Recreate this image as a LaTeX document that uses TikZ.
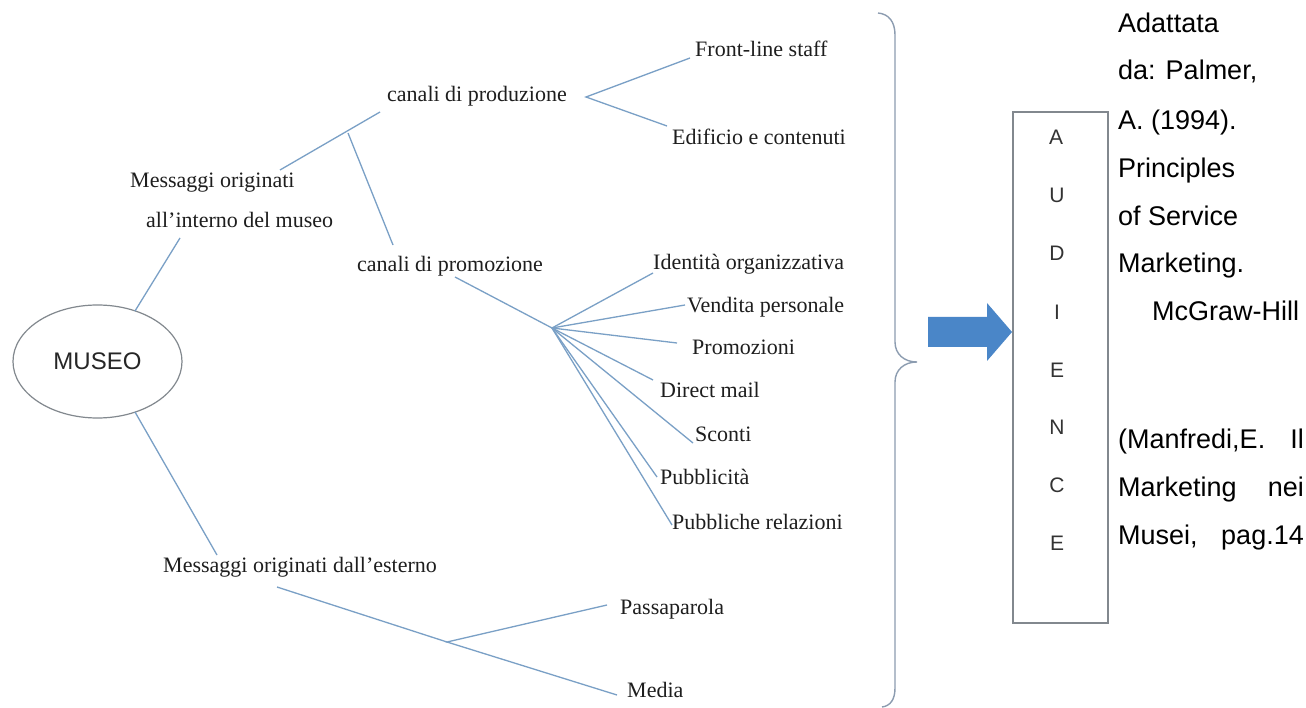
\documentclass[tikz,border=0pt]{standalone}
\usepackage{fontspec}
\setmainfont{Liberation Serif}
\newfontfamily\arialf{Liberation Sans}
\usetikzlibrary{shapes.geometric}
\definecolor{linkblue}{RGB}{122,160,198}
\definecolor{bracegray}{RGB}{140,156,176}
\definecolor{boxgray}{RGB}{130,136,142}
\definecolor{arrowblue}{RGB}{74,134,200}
\definecolor{txt}{RGB}{30,30,30}
\begin{document}
\begin{tikzpicture}[x=1pt,y=-1pt,
  lab/.style={anchor=mid west,inner sep=0pt,yshift=-2pt,font=\fontsize{22}{24}\selectfont,text=txt},
  conn/.style={draw=linkblue,line width=1.3pt},
  reftxt/.style={inner sep=0pt,yshift=-3pt,font=\arialf\fontsize{27}{30}\selectfont,text=black},
  letter/.style={inner sep=0pt,font=\arialf\fontsize{21}{24}\selectfont,text=black!80}]
\useasboundingbox (0,0) rectangle (1306,708);
\fill[white] (0,0) rectangle (1306,708);

% central node
\node[ellipse,draw=boxgray,line width=1.2pt,minimum width=169pt,minimum height=113pt,inner sep=0pt,
  font=\arialf\fontsize{24}{26}\selectfont,text=black!85] (museo) at (97.5,361.5) {MUSEO};

% labels
\node[lab] (mo1) at (130,183) {Messaggi originati};
\node[lab] (mo2) at (146,223) {all’interno del museo};
\node[lab] (cprod) at (387,97) {canali di produzione};
\node[lab] (cprom) at (357,267) {canali di promozione};
\node[lab] (fls) at (695,52) {Front-line staff};
\node[lab] (edi) at (672,140) {Edificio e contenuti};
\node[lab] (ido) at (653,265) {Identità organizzativa};
\node[lab] (vp) at (687,308) {Vendita personale};
\node[lab] (pro) at (692,350) {Promozioni};
\node[lab] (dm) at (660,393) {Direct mail};
\node[lab] (sco) at (695,437) {Sconti};
\node[lab] (pub) at (660,480) {Pubblicità};
\node[lab] (pr) at (672,525) {Pubbliche relazioni};
\node[lab] (me) at (163,568) {Messaggi originati dall’esterno};
\node[lab] (pas) at (620,610) {Passaparola};
\node[lab] (med) at (627,693) {Media};

% connector end points
\coordinate (museoT) at (135,311);
\coordinate (museoB) at (135,412);
\coordinate (mo2a) at (180,238);
\coordinate (mo1a) at (280,170);
\coordinate (cproda) at (380,112);
\coordinate (jA) at (348,133);
\coordinate (cproma) at (393,245);
\coordinate (jP) at (586,97);
\coordinate (flsa) at (690,58);
\coordinate (edia) at (667,126);
\coordinate (cpromb) at (455,277);
\coordinate (jH) at (552,328);
\coordinate (idoa) at (653,273);
\coordinate (vpa) at (685,305);
\coordinate (proa) at (677,343);
\coordinate (dma) at (653,380);
\coordinate (scoa) at (693,443);
\coordinate (puba) at (657,477);
\coordinate (pra) at (672,525);
\coordinate (mea) at (217,555);
\coordinate (meb) at (277,587);
\coordinate (jE) at (447,642);
\coordinate (pasa) at (607,605);
\coordinate (meda) at (617,695);

% connectors
\draw[conn] (museoT) -- (mo2a);
\draw[conn] (mo1a) -- (cproda);
\draw[conn] (jA) -- (cproma);
\draw[conn] (flsa) -- (jP) -- (edia);
\draw[conn] (cpromb) -- (jH);
\foreach \e in {idoa,vpa,proa,dma,scoa,puba,pra}
  \draw[conn] (jH) -- (\e);
\draw[conn] (museoB) -- (mea);
\draw[conn] (meb) -- (jE);
\draw[conn] (pasa) -- (jE) -- (meda);

% brace
\draw[draw=bracegray,line width=1.4pt]
  (878,13) .. controls (889,14) and (895,22) .. (895,35)
  -- (895,342) .. controls (895,354) and (904,362) .. (917,362)
  .. controls (904,362) and (895,370) .. (895,382)
  -- (895,688) .. controls (895,700) and (890,706) .. (882,707);

% arrow
\fill[arrowblue] (928,317) -- (987,317) -- (987,303) -- (1012,332) -- (987,361) -- (987,347) -- (928,347) -- cycle;

% audience box
\node[draw=boxgray,line width=1.3pt,minimum width=95pt,minimum height=511pt,inner sep=0pt] (aud) at (1060.5,367.5) {};
\node[letter] (l1) at (1056,137) {A};
\node[letter] (l2) at (1057,195) {U};
\node[letter] (l3) at (1057,253) {D};
\node[letter] (l4) at (1057,312) {I};
\node[letter] (l5) at (1057,370) {E};
\node[letter] (l6) at (1057,427) {N};
\node[letter] (l7) at (1057,485) {C};
\node[letter] (l8) at (1057,543) {E};

% reference text
\node[reftxt,anchor=mid west] (r1) at (1118,27) {Adattata};
\node[reftxt,anchor=mid west] (r2) at (1118,74) {da: Palmer,};
\node[reftxt,anchor=mid west] (r3) at (1118,124) {A. (1994).};
\node[reftxt,anchor=mid west] (r4) at (1118,172) {Principles};
\node[reftxt,anchor=mid west] (r5) at (1118,220) {of Service};
\node[reftxt,anchor=mid west] (r6) at (1118,267) {Marketing.};
\node[reftxt,anchor=mid west] (r7) at (1152,315) {McGraw-Hill};
\node[reftxt,anchor=mid west] (r8a) at (1118,443) {(Manfredi,E.};
\node[reftxt,anchor=mid east] (r8b) at (1304,443) {Il};
\node[reftxt,anchor=mid west] (r9a) at (1118,491) {Marketing};
\node[reftxt,anchor=mid east] (r9b) at (1304,491) {nei};
\node[reftxt,anchor=mid west] (r10a) at (1118,539) {Musei,};
\node[reftxt,anchor=mid east] (r10b) at (1304,539) {pag.14};
\end{tikzpicture}
\end{document}
